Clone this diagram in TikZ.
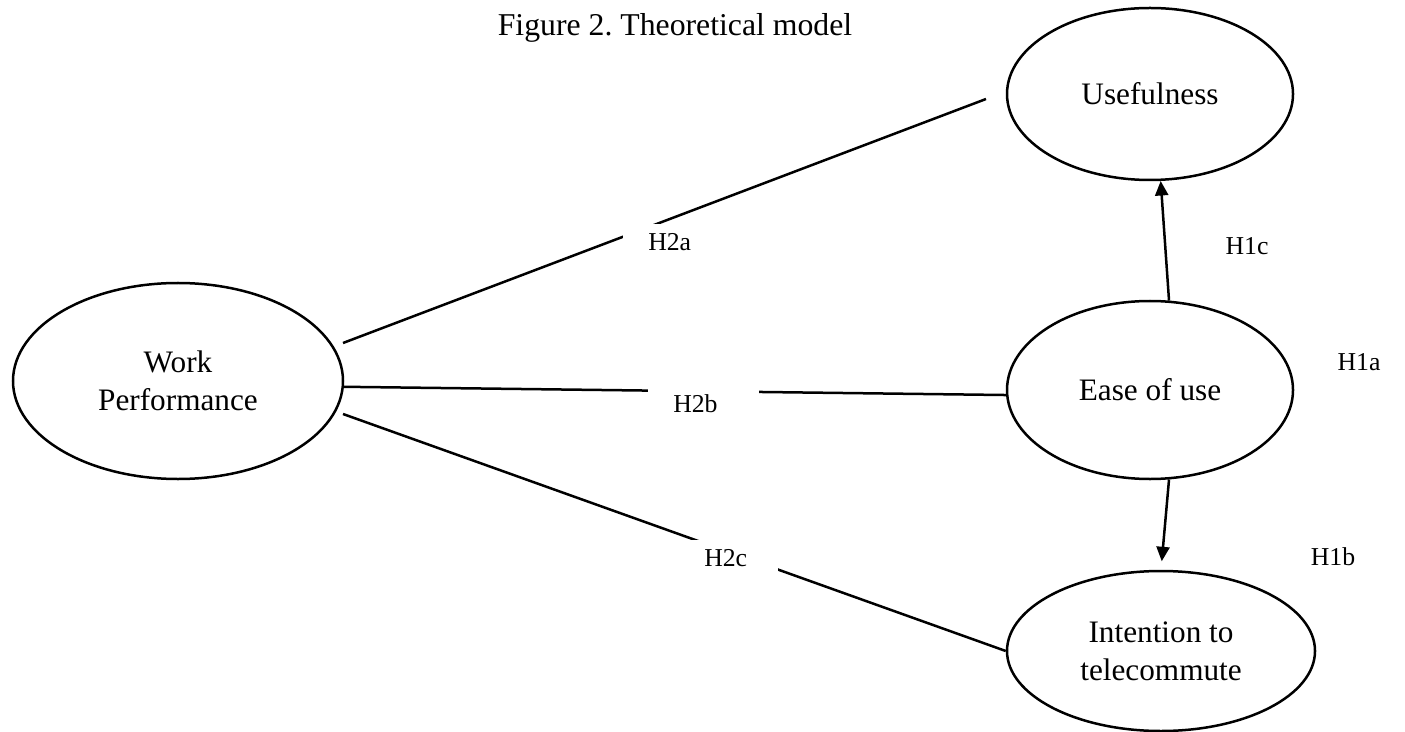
\documentclass[tikz,border=0pt]{standalone}
\usepackage{fontspec}
\setmainfont{Liberation Serif}
\usetikzlibrary{shapes.geometric,arrows.meta}
\frenchspacing

\begin{document}
\begin{tikzpicture}[x=0.4pt, y=-0.4pt, >={Triangle[length=5.8pt,width=5.2pt]}, line width=1pt,
	construct/.style={draw, ellipse, inner sep=0pt, align=center, font=\fontsize{12.5}{15.2}\selectfont},
	hyp/.style={anchor=base, font=\fontsize{10.3}{12}\selectfont},
	hypbox/.style={fill=white, anchor=north west, align=left, inner xsep=10pt, inner ysep=3.6pt, font=\fontsize{10.3}{12}\selectfont}]
	\useasboundingbox (0,0) rectangle (1405,732);

	% 1. 标题
	\node[anchor=base, font=\fontsize{12.7}{15}\selectfont] (title) at (675,36) {Figure 2. Theoretical model};

	% 2. 构念 (椭圆)
	\node[construct, minimum width=132pt, minimum height=78.4pt] (wp) at (178,381) {Work\\Performance};
	\node[construct, minimum width=114.4pt, minimum height=68.8pt] (use) at (1150,94) {Usefulness};
	\node[construct, minimum width=114.4pt, minimum height=71.2pt] (ease) at (1150,390) {Ease of use};
	\node[construct, minimum width=123.2pt, minimum height=64pt] (int) at (1161,651) {Intention to\\telecommute};

	% 3. 连线端点
	\coordinate (h2a-from) at (343,343);
	\coordinate (h2a-to) at (986,99);
	\coordinate (h2c-from) at (343,414);

	% 4. 路径
	\draw (h2a-from) -- (h2a-to);
	\draw (wp.-2.5) -- (ease.182);
	\draw (h2c-from) -- (int.west);
	\draw[->] (ease.78.5) -- (use.-83);
	\draw[->, shorten >=3.4pt] (ease.-78.5) -- (int.north);

	% 5. 假设标号
	\node[hypbox, text width=18pt] (h2a) at (622,223) {H2a};
	\node[hypbox, text width=24.4pt] (h2b) at (647,384) {H2b};
	\node[hypbox, text width=19.6pt] (h2c) at (678,539) {H2c};
	\node[hyp] (h1c) at (1247,255) {H1c};
	\node[hyp] (h1a) at (1359,370) {H1a};
	\node[hyp] (h1b) at (1333,565) {H1b};
\end{tikzpicture}
\end{document}
